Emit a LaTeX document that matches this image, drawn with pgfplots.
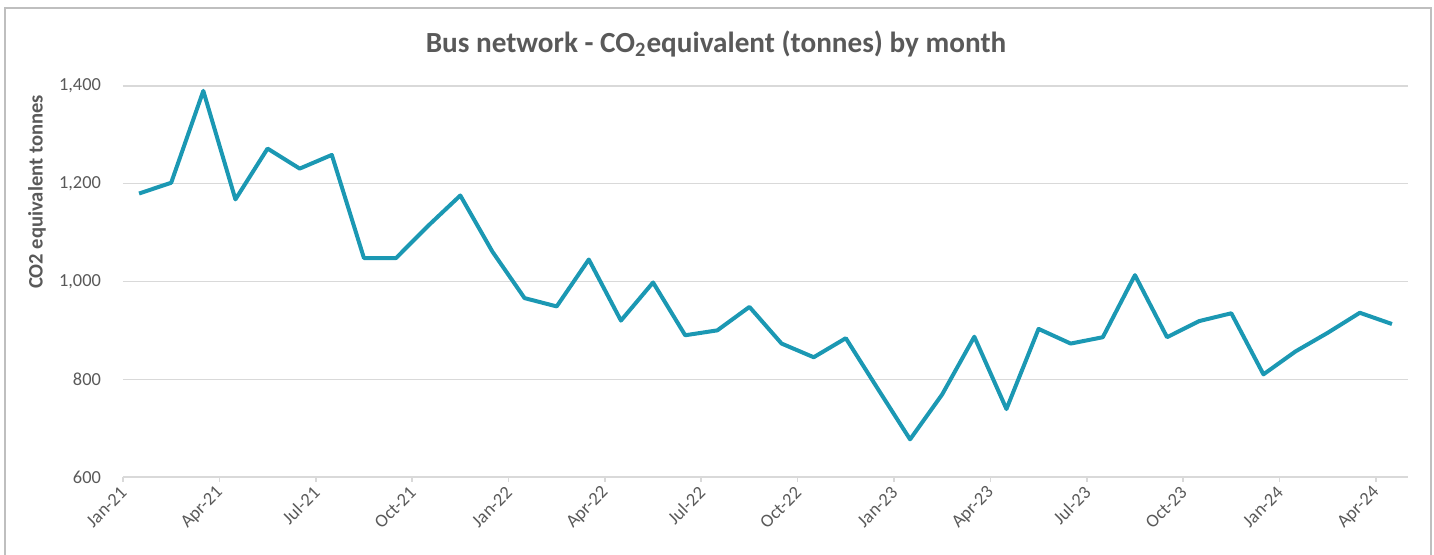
\documentclass[border=0pt]{standalone}
\usepackage{pgfplots}
\pgfplotsset{compat=1.18}
\usepackage{fontspec}
\setmainfont{Carlito}
\definecolor{LineTeal}{HTML}{1B98B3}
\definecolor{GridGray}{HTML}{D9D9D9}
\definecolor{TextGray}{HTML}{595959}
\definecolor{FrameGray}{HTML}{BFBFBF}

\begin{document}
\begin{tikzpicture}
  \begin{axis}[
      scale only axis,
      width=642.5pt,
      height=195.5pt,
      xmin=0, xmax=40,
      ymin=600, ymax=1400,
      ytick={600,800,1000,1200,1400},
      xtick={0,3,...,39},
      xticklabels={Jan-21,Apr-21,Jul-21,Oct-21,Jan-22,Apr-22,Jul-22,Oct-22,Jan-23,Apr-23,Jul-23,Oct-23,Jan-24,Apr-24},
      axis x line*=bottom,
      axis y line*=left,
      y axis line style={draw=none},
      x axis line style={draw=GridGray, line width=0.8pt},
      ytick style={draw=none},
      xtick style={draw=GridGray, line width=0.8pt},
      tick align=outside,
      major tick length=2.5pt,
      ymajorgrids,
      grid style={draw=GridGray, line width=0.7pt},
      /pgf/number format/.cd, 1000 sep={,}, assume math mode=true,
      /pgfplots/.cd,
      ticklabel style={font=\fontsize{9.2}{10}\selectfont, text=TextGray},
      yticklabel style={xshift=-5pt},
      xticklabel style={rotate=45, anchor=east, xshift=1pt, yshift=-3pt},
      ylabel={CO2 equivalent tonnes},
      ylabel style={at={(axis description cs:-0.0669,0.729)}, anchor=center,
        font=\bfseries\fontsize{10.3}{12}\selectfont, text=TextGray},
      clip=false,
    ]
    \addplot[LineTeal, line width=2pt, line join=round, no marks] coordinates {
      (0.5,1180) (1.5,1202) (2.5,1390) (3.5,1168) (4.5,1272) (5.5,1231)
      (6.5,1259) (7.5,1048) (8.5,1048) (9.5,1114) (10.5,1176) (11.5,1061)
      (12.5,966) (13.5,949) (14.5,1045) (15.5,920) (16.5,998) (17.5,890)
      (18.5,900) (19.5,948) (20.5,873) (21.5,845) (22.5,884) (23.5,780)
      (24.5,677) (25.5,769) (26.5,887) (27.5,739) (28.5,903) (29.5,873)
      (30.5,886) (31.5,1013) (32.5,886) (33.5,919) (34.5,935) (35.5,810)
      (36.5,857) (37.5,895) (38.5,936) (39.5,913)
    };
  \end{axis}
  % chart frame and page size, relative to the plot area corner
  \begin{scope}[shift={(current axis.south west)}]
    \useasboundingbox (-61.5pt,-39pt) rectangle (655.5pt,238.5pt);
    \draw[FrameGray, line width=0.8pt] (-59pt,-39pt) -- (-59pt,234.5pt) -- (654pt,234.5pt) -- (654pt,-39pt);
    \node[font=\bfseries\fontsize{14.6}{17}\selectfont, text=TextGray] at (296.5pt,216.5pt)
      {Bus network - CO\textsubscript{2}equivalent (tonnes) by month};
  \end{scope}
\end{tikzpicture}
\end{document}
